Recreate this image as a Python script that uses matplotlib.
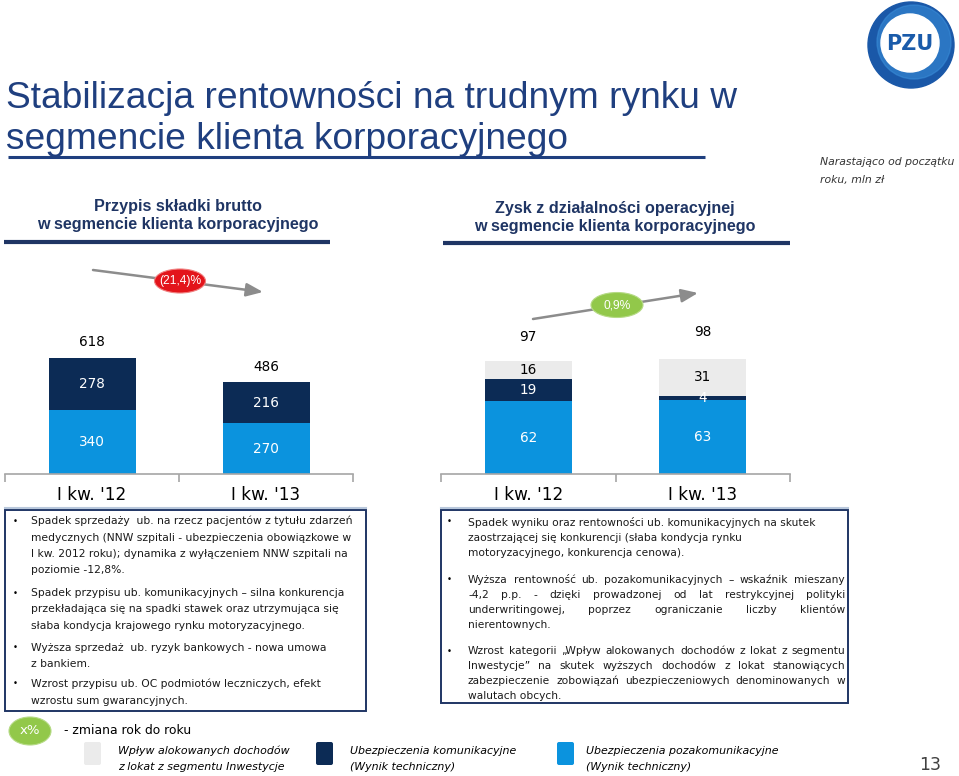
import numpy as np
import matplotlib
matplotlib.use("Agg")
import matplotlib.pyplot as plt
from matplotlib.patches import Ellipse, Circle, Rectangle, FancyBboxPatch

# data
quarters = ["I kw. '12", "I kw. '13"]
gwp_nonmotor = [340, 270]
gwp_motor = [278, 216]
gwp_total = [618, 486]
gwp_change = "(21,4)%"
op_nonmotor = [62, 63]
op_motor = [19, 4]
op_invest = [16, 31]
op_total = [97, 98]
op_change = "0,9%"

C_GRAY = "#EBEBEB"
C_NAVY = "#0C2B55"
C_BLUE = "#0B93DE"
C_TITLE = "#1F3F7F"
C_SUB = "#1F3564"
C_AXIS = "#A6A6A6"

W, H = 959, 776
fig = plt.figure(figsize=(W / 100, H / 100), dpi=100)
fig.patch.set_facecolor("white")

# overlay axes in pixel coordinates (y down)
ov = fig.add_axes([0, 0, 1, 1])
ov.set_xlim(0, W)
ov.set_ylim(H, 0)
ov.axis("off")
rend = fig.canvas.get_renderer()


def fit(t, target_w):
    w = t.get_window_extent(rend).width
    t.set_fontsize(t.get_fontsize() * target_w / w)
    return t


def justify(x0, x1, y, line, **kw):
    words = line.split()
    ts = [ov.text(x0, y, w, ha="left", va="center", **kw) for w in words]
    ws = [t.get_window_extent(rend).width for t in ts]
    gap = (x1 - x0 - sum(ws)) / max(len(words) - 1, 1)
    x = x0
    for t, w in zip(ts, ws):
        t.set_x(x)
        x += w + gap


NARROW = ["Liberation Sans Narrow", "Liberation Sans"]

# ---- header ----
t1 = ov.text(6, 108, "Stabilizacja rentowności na trudnym rynku w", fontsize=30,
             color=C_TITLE, family=NARROW, va="baseline")
fit(t1, 729)
ov.text(6, 149, "segmencie klienta korporacyjnego", fontsize=t1.get_fontsize(),
        color=C_TITLE, family=NARROW, va="baseline")
ov.plot([8, 705], [157, 157], color=C_TITLE, lw=2.2, solid_capstyle="butt")

s1 = ov.text(178, 225, "w segmencie klienta korporacyjnego", fontsize=11, weight="bold",
             color=C_SUB, family=NARROW, ha="center", va="center")
fit(s1, 283)
ov.text(178, 207, "Przypis składki brutto", fontsize=s1.get_fontsize(), weight="bold",
        color=C_SUB, family=NARROW, ha="center", va="center")
ov.text(615, 226, "w segmencie klienta korporacyjnego", fontsize=s1.get_fontsize(),
        weight="bold", color=C_SUB, family=NARROW, ha="center", va="center")
ov.text(615, 208, "Zysk z działalności operacyjnej", fontsize=s1.get_fontsize(),
        weight="bold", color=C_SUB, family=NARROW, ha="center", va="center")
ov.plot([4, 330], [242, 242], color=C_SUB, lw=3, solid_capstyle="butt")
ov.plot([443, 790], [243, 243], color=C_SUB, lw=3, solid_capstyle="butt")

n1 = ov.text(820, 162, "Narastająco od początku", fontsize=9, style="italic",
             color="#333333", va="center")
fit(n1, 135)
ov.text(820, 180, "roku, mln zł", fontsize=n1.get_fontsize(), style="italic",
        color="#333333", va="center")

# PZU logo
ov.add_patch(Circle((911, 45), 43, color="#1A58A8"))
ov.add_patch(Circle((914, 42), 37, color="#3A8FDA", alpha=0.55))
ov.add_patch(Circle((910, 43), 29, color="white"))
ov.text(910, 44, "PZU", fontsize=15, weight="bold", color="#1A5BAA",
        ha="center", va="center", family="DejaVu Sans")


# ---- bar charts ----
def bar_axes(x0, x1, base, px_per_unit, height=230):
    ax = fig.add_axes([x0 / W, (H - base) / H, (x1 - x0) / W, height / H])
    ax.set_xlim(0, 2)
    ax.set_ylim(0, height / px_per_unit)
    ax.patch.set_visible(False)
    for s in ["top", "right", "left"]:
        ax.spines[s].set_visible(False)
    ax.spines["bottom"].set_color(C_AXIS)
    ax.spines["bottom"].set_linewidth(1.2)
    ax.set_yticks([])
    ax.set_xticks([0.5, 1.5], quarters)
    ax.tick_params(axis="x", which="major", length=0, pad=9, labelsize=12.2,
                   labelcolor="black")
    ax.set_xticks([0, 1, 2], minor=True)
    ax.tick_params(axis="x", which="minor", length=6, width=1.2, color=C_AXIS)
    return ax


xs = np.array([0.5, 1.5])
bw = 0.5
lab = dict(ha="center", va="center", fontsize=9.8)

axl = bar_axes(5, 353, 474, 0.1885)
axl.bar(xs, gwp_nonmotor, bw, color=C_BLUE)
axl.bar(xs, gwp_motor, bw, bottom=gwp_nonmotor, color=C_NAVY)
for i, x in enumerate(xs):
    axl.text(x, gwp_nonmotor[i] / 2, str(gwp_nonmotor[i]), color="white", **lab)
    axl.text(x, gwp_nonmotor[i] + gwp_motor[i] / 2, str(gwp_motor[i]), color="white", **lab)
    axl.annotate(str(gwp_total[i]), (x, gwp_total[i]), xytext=(0, 11),
                 textcoords="offset points", color="black", **lab)

axr = bar_axes(441, 790, 474, 1.17)
bot2 = [a + b for a, b in zip(op_nonmotor, op_motor)]
axr.bar(xs, op_nonmotor, bw, color=C_BLUE)
axr.bar(xs, op_motor, bw, bottom=op_nonmotor, color=C_NAVY)
axr.bar(xs, op_invest, bw, bottom=bot2, color=C_GRAY)
for i, x in enumerate(xs):
    axr.text(x, op_nonmotor[i] / 2, str(op_nonmotor[i]), color="white", **lab)
    axr.text(x, op_nonmotor[i] + op_motor[i] / 2, str(op_motor[i]), color="white", **lab)
    axr.text(x, bot2[i] + op_invest[i] / 2, str(op_invest[i]), color="black", **lab)
    axr.annotate(str(op_total[i]), (x, op_total[i]), xytext=(0, 17 if i == 0 else 20),
                 textcoords="offset points", color="black", **lab)

# lines under category labels
ov.plot([5, 366], [508, 508], color="#B9C8DC", lw=1.5)
ov.plot([441, 848], [508, 508], color="#B9C8DC", lw=1.5)

# change arrows, ellipse badges drawn above the arrow line
arrow = dict(arrowstyle="-|>,head_length=1.0,head_width=0.4", color="#8C8C8C",
             lw=1.8, shrinkA=0, shrinkB=0)
ov.annotate("", xy=(263, 292), xytext=(93, 270), arrowprops=arrow, zorder=2)
ov.add_patch(Ellipse((180, 281), 51, 24, facecolor="#E3141B", edgecolor="#F08080",
                     lw=0.8, zorder=4))
c1 = ov.text(180, 281, gwp_change, color="white", ha="center", va="center", fontsize=8,
             family="Liberation Sans", zorder=5)
fit(c1, 42)
ov.annotate("", xy=(698, 293), xytext=(533, 319), arrowprops=arrow, zorder=2)
ov.add_patch(Ellipse((617, 305), 52, 25, facecolor="#92C84A", edgecolor="#B5DA85",
                     lw=0.8, zorder=4))
ov.text(617, 305, op_change, color="white", ha="center", va="center",
        fontsize=c1.get_fontsize(), family="Liberation Sans", zorder=5)

# ---- comment boxes ----
ov.add_patch(Rectangle((5, 510), 361, 201, facecolor="none", edgecolor="#1F3564", lw=1.4))
ov.add_patch(Rectangle((441, 510), 407, 193, facecolor="none", edgecolor="#1F3564", lw=1.4))

left_paras = [
    ["Spadek sprzedaży  ub. na rzecz pacjentów z tytułu zdarzeń",
     "medycznych (NNW szpitali - ubezpieczenia obowiązkowe w",
     "I kw. 2012 roku); dynamika z wyłączeniem NNW szpitali na",
     "poziomie -12,8%."],
    ["Spadek przypisu ub. komunikacyjnych – silna konkurencja",
     "przekładająca się na spadki stawek oraz utrzymująca się",
     "słaba kondycja krajowego rynku motoryzacyjnego."],
    ["Wyższa sprzedaż  ub. ryzyk bankowych - nowa umowa",
     "z bankiem."],
    ["Wzrost przypisu ub. OC podmiotów leczniczych, efekt",
     "wzrostu sum gwarancyjnych."],
]
left_y = [[521, 538, 554, 570], [593, 609, 626], [648, 664], [684, 701]]

probe = ov.text(31, 0, left_paras[0][0], fontsize=9)
fit(probe, 318)
fs_l = probe.get_fontsize()
probe.remove()
for para, ys in zip(left_paras, left_y):
    ov.text(13, ys[0], "•", fontsize=fs_l * 0.8, va="center")
    for line, y in zip(para, ys):
        ov.text(31, y, line, fontsize=fs_l, va="center", color="#1a1a1a")

right_paras = [
    ["Spadek wyniku oraz rentowności ub. komunikacyjnych na skutek",
     "zaostrzającej się konkurencji (słaba kondycja rynku",
     "motoryzacyjnego, konkurencja cenowa)."],
    ["Wyższa rentowność ub. pozakomunikacyjnych – wskaźnik mieszany",
     "-4,2 p.p. - dzięki prowadzonej od lat restrykcyjnej polityki",
     "underwritingowej, poprzez ograniczanie liczby klientów",
     "nierentownych."],
    ["Wzrost kategorii „Wpływ alokowanych dochodów z lokat z segmentu",
     "Inwestycje” na skutek wyższych dochodów z lokat stanowiących",
     "zabezpieczenie zobowiązań ubezpieczeniowych denominowanych w",
     "walutach obcych."],
]
right_y = [[522, 538, 553], [580, 595, 610, 625], [651, 666, 681, 696]]
right_just = [False, True, True]

probe = ov.text(468, 0, right_paras[0][0], fontsize=9)
fit(probe, 346)
fs_r = probe.get_fontsize()
probe.remove()
for para, ys, jst in zip(right_paras, right_y, right_just):
    ov.text(447, ys[0], "•", fontsize=fs_r * 0.8, va="center")
    for k, (line, y) in enumerate(zip(para, ys)):
        if jst and k < len(para) - 1:
            justify(468, 845, y, line, fontsize=fs_r, color="#1a1a1a")
        else:
            ov.text(468, y, line, fontsize=fs_r, va="center", color="#1a1a1a")

# ---- legend ----
ov.add_patch(Ellipse((30, 731), 42, 28, facecolor="#92C84A", edgecolor="#B5DA85", lw=0.8))
ov.text(30, 731, "x%", color="white", ha="center", va="center", fontsize=9.5)
z = ov.text(64, 731, "- zmiana rok do roku", fontsize=10, va="center")
fit(z, 128)

legend_items = [
    (C_GRAY, 84, 118, "Wpływ alokowanych dochodów", "z lokat z segmentu Inwestycje"),
    (C_NAVY, 316, 350, "Ubezpieczenia komunikacyjne", "(Wynik techniczny)"),
    (C_BLUE, 557, 586, "Ubezpieczenia pozakomunikacyjne", "(Wynik techniczny)"),
]
leg_texts = []
for col, sx, tx, l1, l2 in legend_items:
    ov.add_patch(FancyBboxPatch((sx + 2, 744), 13, 19, boxstyle="round,pad=2",
                                facecolor=col, edgecolor="none"))
    leg_texts.append(ov.text(tx, 751, l1, fontsize=9, style="italic", va="center"))
    leg_texts.append(ov.text(tx, 767, l2, fontsize=9, style="italic", va="center"))
fit(leg_texts[0], 172)
for t in leg_texts[1:]:
    t.set_fontsize(leg_texts[0].get_fontsize())

ov.text(930, 765, "13", fontsize=12.5, color="#404040", ha="center", va="center")

fig.savefig("out.png", dpi=100)
